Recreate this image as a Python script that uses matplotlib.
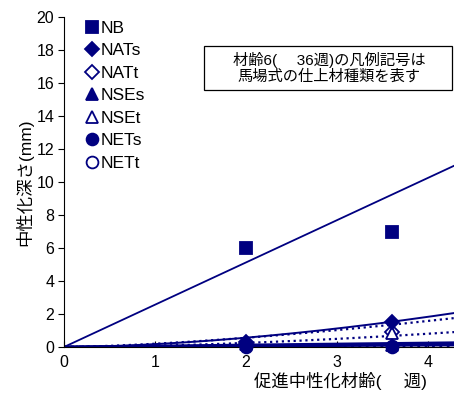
import numpy as np
import matplotlib
matplotlib.use("Agg")
import matplotlib.pyplot as plt
from matplotlib.patches import Rectangle

plt.rcParams['font.family'] = ['Liberation Sans', 'Noto Sans CJK JP', 'DejaVu Sans']

NAVY = "#000080"

# sqrt of accelerated carbonation age (weeks): 4 and 13 weeks
x_points = [2.0, 3.606]

series_names = ["NB", "NATs", "NATt", "NSEs", "NSEt", "NETs", "NETt"]
series_values = {
    "NB":   [6.0, 7.0],
    "NATs": [0.3, 1.5],
    "NATt": [0.2, 0.9],
    "NSEs": [0.3, 0.1],
    "NSEt": [0.2, 0.85],
    "NETs": [0.0, 0.0],
    "NETt": [0.05, 0.05],
}
# fitted carbonation curves: depth = coef * x ** power
curve_coef = {
    "NB": 2.56, "NATs": 0.173, "NATt": 0.197, "NSEs": 0.06,
    "NSEt": 0.076, "NETs": 0.028, "NETt": 0.012,
}
curve_power = {
    "NB": 1.0, "NATs": 1.7, "NATt": 1.5, "NSEs": 1.0,
    "NSEt": 1.7, "NETs": 1.0, "NETt": 1.0,
}

markers = {"NB": "s", "NATs": "D", "NATt": "D", "NSEs": "^",
           "NSEt": "^", "NETs": "o", "NETt": "o"}
filled = {"NB": True, "NATs": True, "NATt": False, "NSEs": True,
          "NSEt": False, "NETs": True, "NETt": False}
msize = {"NB": 8.5, "NATs": 7, "NATt": 7, "NSEs": 8.5, "NSEt": 8.5,
         "NETs": 8.5, "NETt": 8.5}
line_style = {"NB": ("-", 1.3), "NATs": ("-", 1.4), "NATt": (":", 1.6),
              "NSEs": ("-", 2.0), "NSEt": (":", 1.6), "NETs": ("-", 2.0),
              "NETt": (":", 2.0)}

fig = plt.figure(figsize=(4.54, 3.94), dpi=100)
ax = fig.add_axes([64 / 454, 47 / 394, 390 / 454, 330 / 394])

xmax = 4.29
xl = np.linspace(0.0, xmax, 200)
for name in series_names:
    ls, lw = line_style[name]
    ax.plot(xl, curve_coef[name] * xl ** curve_power[name], color=NAVY,
            linestyle=ls, linewidth=lw, zorder=2)

for name in series_names:
    ax.plot(x_points, series_values[name], linestyle="none",
            marker=markers[name], markersize=msize[name],
            markerfacecolor=NAVY if filled[name] else "white",
            markeredgecolor=NAVY, markeredgewidth=1.3,
            label=name, zorder=4 if filled[name] else 3, clip_on=False)

ax.set_xlim(0, xmax)
ax.set_ylim(0, 20)
ax.set_xticks([0, 1, 2, 3, 4])
ax.set_yticks(range(0, 21, 2))
ax.spines["top"].set_visible(False)
ax.spines["right"].set_visible(False)
ax.tick_params(axis="y", direction="out", length=4, labelsize=11.5, pad=3)
ax.tick_params(axis="x", direction="in", length=4, labelsize=11.5, pad=6)

ax.set_xlabel("促進中性化材齢(\u3000 週)", fontsize=12.5, labelpad=1,
              x=0.71)
ax.set_ylabel("中性化深さ(mm)", fontsize=12.5, labelpad=2)

leg = ax.legend(loc="upper left", bbox_to_anchor=(0.027, 1.02), frameon=False,
                fontsize=12.5, handlelength=0.8, handletextpad=0.12,
                labelspacing=0.42, borderaxespad=0.2, numpoints=1)
for t in leg.get_texts():
    t.set_color("black")

# note box about the legend symbols
ax.add_patch(Rectangle((0.359, 0.779), 0.636, 0.133, transform=ax.transAxes,
                       facecolor="white", edgecolor="black", linewidth=0.9,
                       zorder=4, clip_on=False))
ax.text(0.68, 0.846, "材齢6(\u3000 36週)の凡例記号は\n馬場式の仕上材種類を表す",
        transform=ax.transAxes, ha="center", va="center", fontsize=11,
        linespacing=1.1, zorder=5)

fig.savefig("out.png", dpi=100)
